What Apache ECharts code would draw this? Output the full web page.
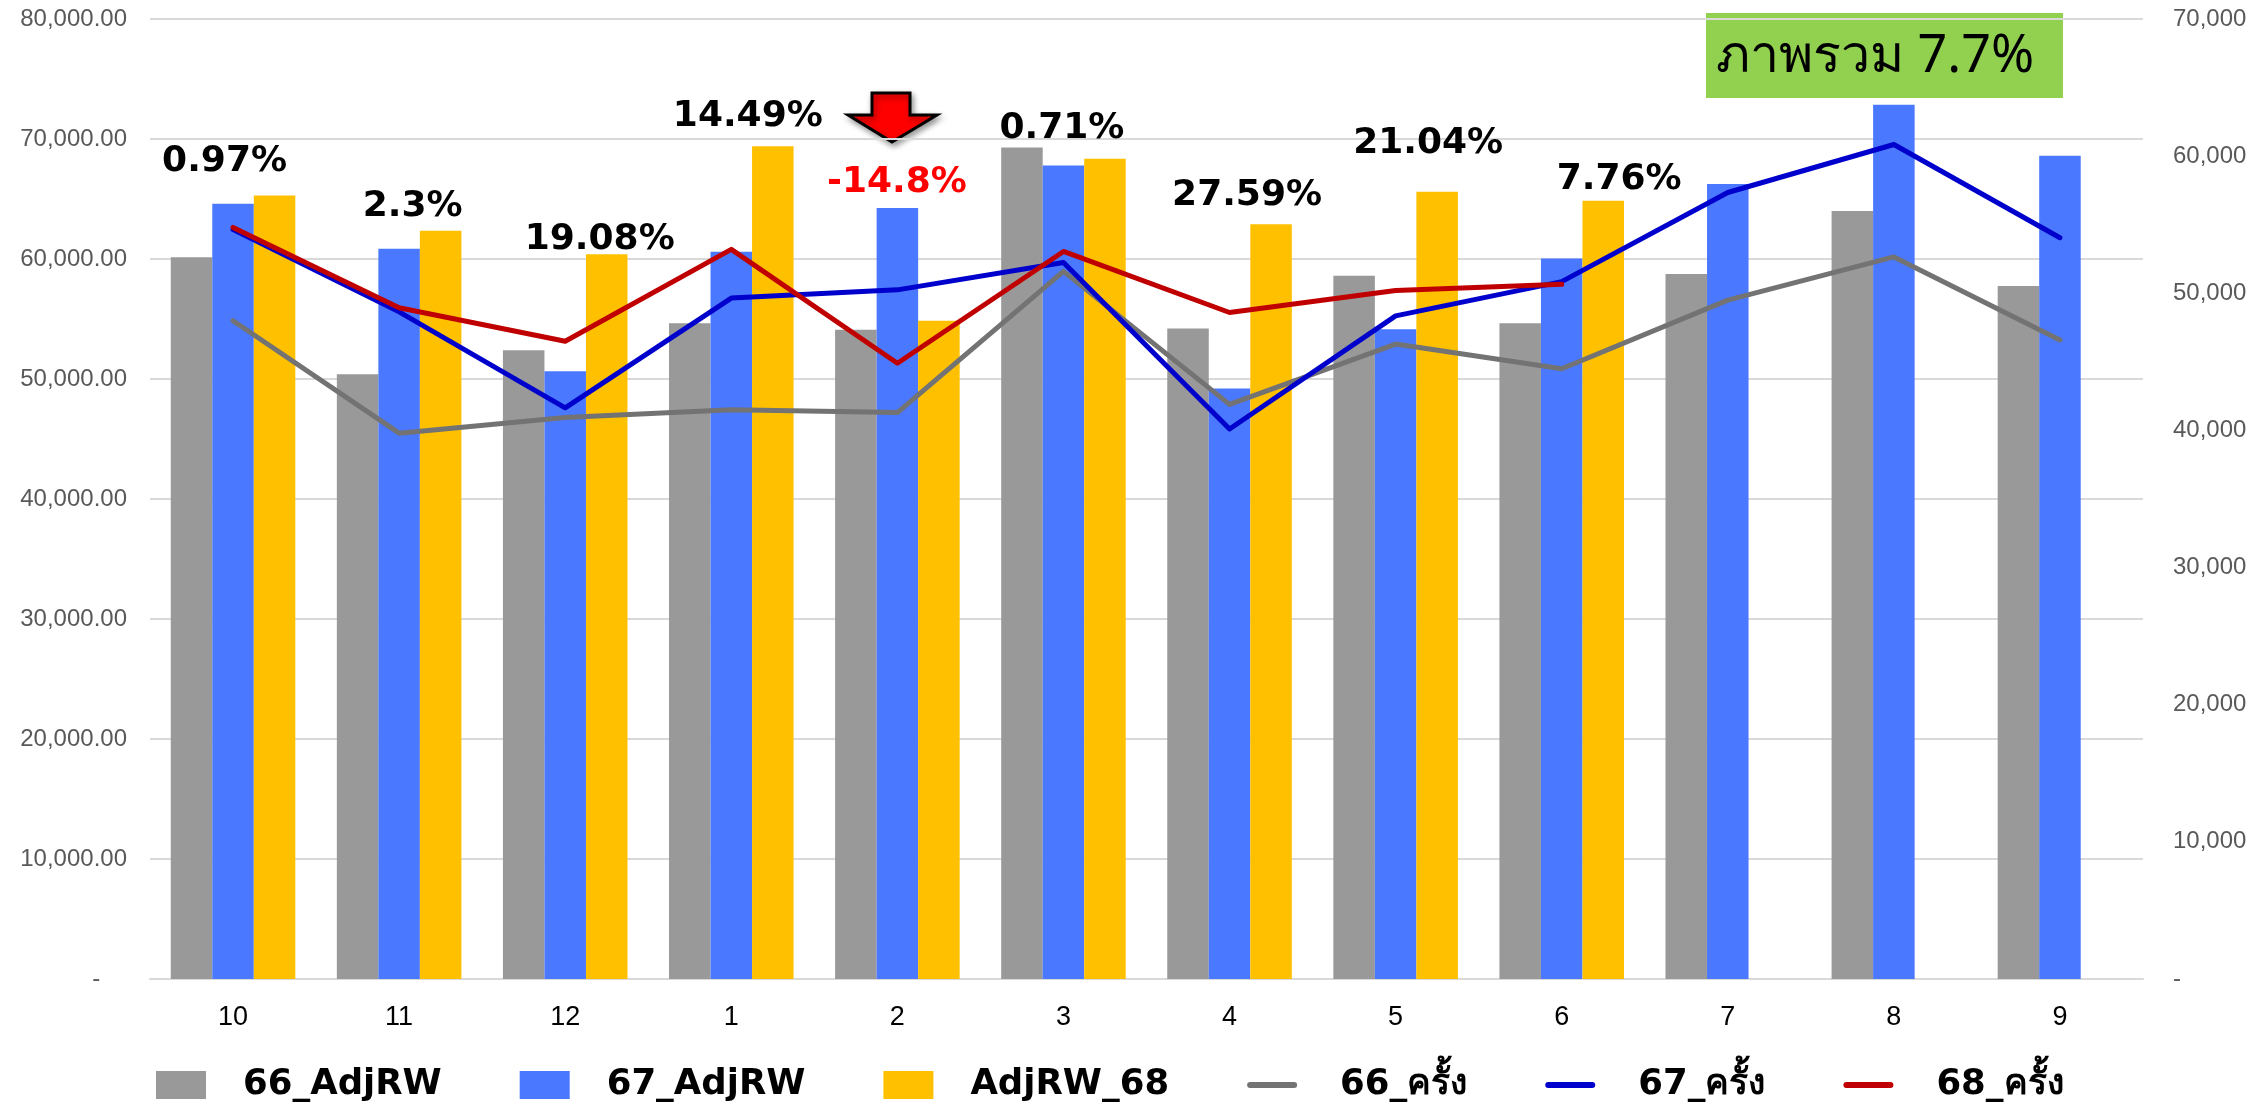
<!DOCTYPE html>
<html>
<head>
<meta charset="utf-8">
<script src="https://cdn.jsdelivr.net/npm/echarts@6/dist/echarts.min.js"></script>
<style>
  html, body { margin: 0; padding: 0; background: #fff; }
  #chart { width: 2267px; height: 1102px; }
</style>
</head>
<body>
<div id="chart"></div>
<script>
var months = ['10', '11', '12', '1', '2', '3', '4', '5', '6', '7', '8', '9'];

var adjRw66 = [60150, 50400, 52400, 54650, 54100, 69300, 54200, 58600, 54650, 58750, 64000, 57750];
var adjRw67 = [64600, 60850, 50650, 60600, 64250, 67800, 49200, 54150, 60050, 66250, 72850, 68600];
var adjRw68 = [65300, 62350, 60400, 69400, 54850, 68350, 62900, 65600, 64850, null, null, null];

var visits66 = [48000, 39800, 40950, 41500, 41300, 51600, 41900, 46300, 44500, 49500, 52650, 46600];
var visits67 = [54650, 48650, 41650, 49650, 50250, 52250, 40100, 48350, 50850, 57350, 60850, 54050];
var visits68 = [54800, 48950, 46500, 53200, 44900, 53050, 48600, 50200, 50650, null, null, null];

var growthText = ['0.97%', '2.3%', '19.08%', '14.49%', '-14.8%', '0.71%', '27.59%', '21.04%', '7.76%'];
var overallText = 'ภาพรวม 7.7%';

// where each growth label sits: [height on left axis, x shift in px from the yellow bar]
var growthPos = [[68100, -50], [64350, -28], [61650, -7], [71850, -25], [66400, -42],
                 [70850, -43], [65250, -24], [69650, -9], [66600, 16]];

var chart = echarts.init(document.getElementById('chart'));

function leftFmt(v) {
    if (v === 0) return '-    ';
    return v.toLocaleString('en-US', {minimumFractionDigits: 2, maximumFractionDigits: 2});
}
function rightFmt(v) {
    if (v === 0) return '-';
    return v.toLocaleString('en-US');
}

var notes = growthText.map(function(t, i) {
    return {
        coord: [i, growthPos[i][0]],
        label: {
            formatter: t,
            offset: [growthPos[i][1], 0],
            color: t.charAt(0) === '-' ? '#ff0000' : '#000000'
        }
    };
});

var barStyle = function(name, data, color) {
    return {
        name: name, type: 'bar', data: data, yAxisIndex: 0,
        barGap: 0, barCategoryGap: '25%',
        itemStyle: {color: color}
    };
};
var lineStyle = function(name, data, color) {
    return {
        name: name, type: 'line', data: data, yAxisIndex: 1,
        symbol: 'none', smooth: false,
        lineStyle: {color: color, width: 5, cap: 'round', join: 'round'},
        itemStyle: {color: color}
    };
};

var yellow = barStyle('AdjRW_68', adjRw68, '#ffc000');
yellow.markPoint = {
    symbol: 'rect', symbolSize: 1,
    itemStyle: {color: 'rgba(0,0,0,0)'},
    label: {
        show: true, position: 'inside',
        fontFamily: 'DejaVu Sans', fontWeight: 'bold', fontSize: 36
    },
    data: notes
};

var lineIcon = 'path://M3,0 L47,0 A3,3 0 0 1 47,6 L3,6 A3,3 0 0 1 3,0 Z';
var lineText = {padding: [0, 0, 0, 38]};

chart.setOption({
    animation: false,
    grid: {left: 150, right: 124, top: 19, bottom: 123},
    legend: {
        left: 151, top: 1060,
        itemWidth: 50, itemHeight: 28, itemGap: 78,
        textStyle: {
            fontFamily: 'DejaVu Sans', fontWeight: 'bold', fontSize: 35.5, lineHeight: 40,
            color: '#000', padding: [0, 0, 0, 32]
        },
        data: [
            {name: '66_AdjRW', icon: 'rect'},
            {name: '67_AdjRW', icon: 'rect'},
            {name: 'AdjRW_68', icon: 'rect'},
            {name: '66_ครั้ง', icon: lineIcon, textStyle: lineText},
            {name: '67_ครั้ง', icon: lineIcon, textStyle: lineText},
            {name: '68_ครั้ง', icon: lineIcon, textStyle: lineText}
        ]
    },
    xAxis: {
        type: 'category', data: months,
        axisTick: {show: false},
        axisLine: {lineStyle: {color: '#d9d9d9', width: 2}},
        axisLabel: {color: '#000', fontFamily: 'Liberation Sans', fontSize: 27, margin: 25}
    },
    yAxis: [{
        type: 'value', min: 0, max: 80000, interval: 10000,
        axisLabel: {color: '#595959', fontFamily: 'Liberation Sans', fontSize: 24, margin: 23, formatter: leftFmt},
        splitLine: {lineStyle: {color: '#d9d9d9', width: 2}},
        axisLine: {show: false}, axisTick: {show: false}
    }, {
        type: 'value', min: 0, max: 70000, interval: 10000,
        axisLabel: {color: '#595959', fontFamily: 'Liberation Sans', fontSize: 24, margin: 30, formatter: rightFmt},
        splitLine: {show: false},
        axisLine: {show: false}, axisTick: {show: false}
    }],
    series: [
        barStyle('66_AdjRW', adjRw66, '#999999'),
        barStyle('67_AdjRW', adjRw67, '#4a78ff'),
        yellow,
        lineStyle('66_ครั้ง', visits66, '#737373'),
        lineStyle('67_ครั้ง', visits67, '#0000cc'),
        lineStyle('68_ครั้ง', visits68, '#c00000')
    ],
    graphic: [{
        type: 'polygon',
        shape: {points: [[872, 93], [910, 93], [910, 115], [937, 115], [892, 142], [848, 115], [872, 115]]},
        style: {
            fill: '#ff0000', stroke: '#000', lineWidth: 3,
            shadowBlur: 6, shadowOffsetX: 2, shadowOffsetY: 3, shadowColor: 'rgba(0,0,0,0.4)'
        }
    }, {
        type: 'rect',
        shape: {x: 1706, y: 13, width: 357, height: 85},
        style: {fill: '#92d050'}
    }, {
        type: 'text', x: 1716, y: 57,
        style: {
            text: overallText, fill: '#000',
            font: '52px "Noto Sans", sans-serif',
            textVerticalAlign: 'middle'
        }
    }]
});

window.addEventListener('resize', function() {
    chart.resize();
});
</script>
</body>
</html>
